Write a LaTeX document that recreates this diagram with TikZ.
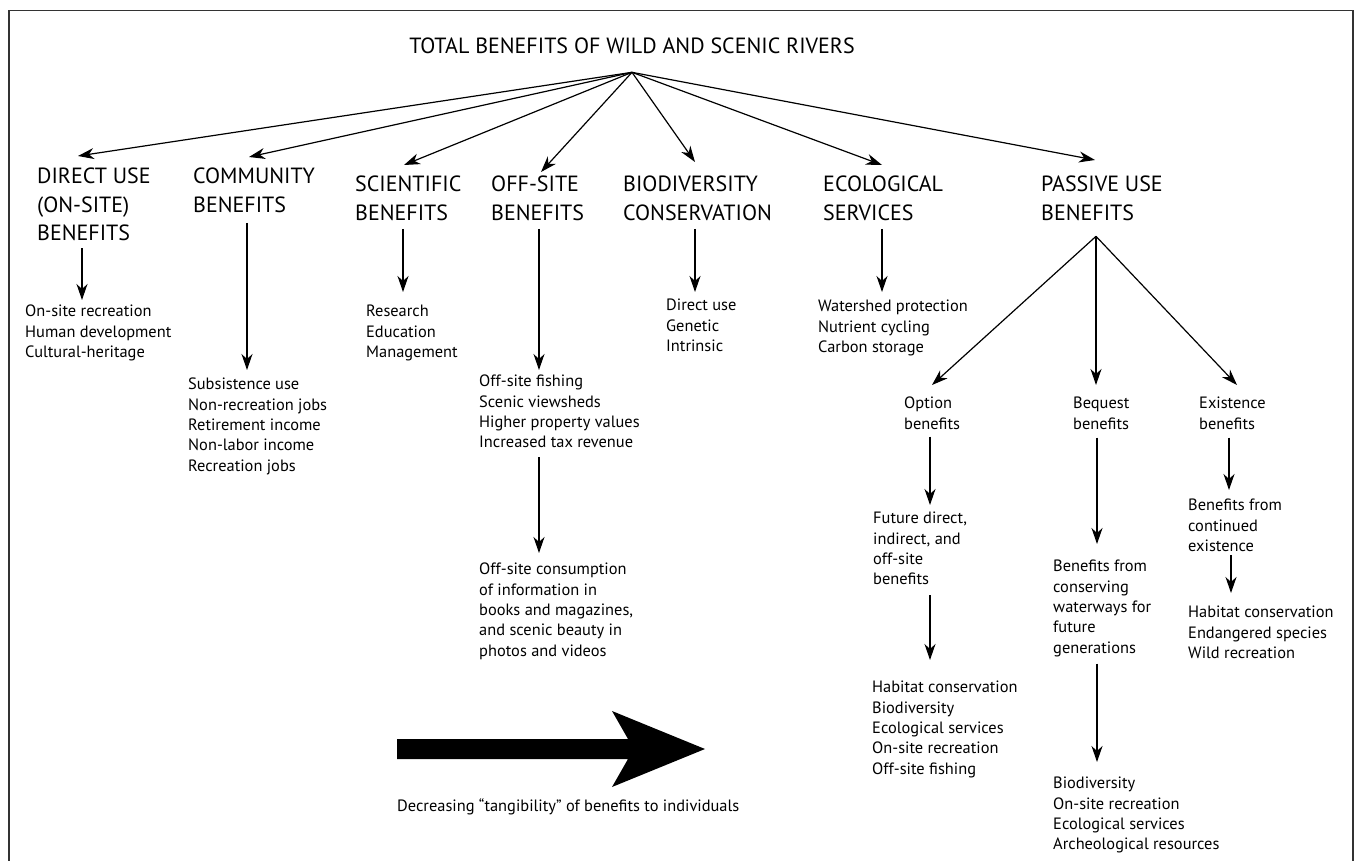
\documentclass[tikz,border=0pt]{standalone}
\usepackage{fontspec}
\setmainfont{PT Sans}
\usetikzlibrary{arrows.meta, positioning}
\newcommand{\headfont}{\fontsize{22}{28.5}\selectfont}
\newcommand{\itemfont}{\fontsize{16.4}{20.3}\selectfont}

\begin{document}
\begin{tikzpicture}[
    x=1pt, y=-1pt,
    heading/.style={anchor=north west, inner sep=0pt, align=left, font=\headfont},
    item/.style={anchor=north west, inner sep=0pt, align=left, font=\itemfont},
    arrow/.style={-{Stealth[length=16pt, width=11pt, inset=5pt]}, line width=1.2pt},
    frame/.style={line width=1.8pt, black!80}
]
\useasboundingbox (0,0) rectangle (1355,861);

% Frame
\draw[frame] (9,861) -- (9,10.5) -- (1353,10.5) -- (1353,861);

% Title
\node[heading, anchor=north] (title) at (632,38) {TOTAL BENEFITS OF WILD AND SCENIC RIVERS};
\coordinate (root) at ([yshift=-18pt]title.south);

% Benefit groups
\node[heading] (dir) at (37,168) {DIRECT USE\\(ON-SITE)\\BENEFITS};
\node[heading] (com) at (193,168) {COMMUNITY\\BENEFITS};
\node[heading] (sci) at (355,176) {SCIENTIFIC\\BENEFITS};
\node[heading] (off) at (491,176) {OFF-SITE\\BENEFITS};
\node[heading] (bio) at (623,176) {BIODIVERSITY\\CONSERVATION};
\node[heading] (eco) at (823,176) {ECOLOGICAL\\SERVICES};
\node[heading] (pas) at (1041,176) {PASSIVE USE\\BENEFITS};

% Lists under each group
\node[item] (dirl) at (25,305) {On-site recreation\\Human development\\Cultural-heritage};
\node[item] (coml) at (188,378) {Subsistence use\\Non-recreation jobs\\Retirement income\\Non-labor income\\Recreation jobs};
\node[item] (scil) at (366,305) {Research\\Education\\Management};
\node[item] (offl) at (479,375) {Off-site fishing\\Scenic viewsheds\\Higher property values\\Increased tax revenue};
\node[item] (offl2) at (479,563) {Off-site consumption\\of information in\\books and magazines,\\and scenic beauty in\\photos and videos};
\node[item] (biol) at (666,299) {Direct use\\Genetic\\Intrinsic};
\node[item] (ecol) at (818,300) {Watershed protection\\Nutrient cycling\\Carbon storage};

% Passive use branches
\node[item] (opt) at (904,397) {Option\\benefits};
\node[item] (beq) at (1073,397) {Bequest\\benefits};
\node[item] (exi) at (1199,397) {Existence\\benefits};
\node[item] (optf) at (873,512) {Future direct,\\indirect, and\\off-site\\benefits};
\node[item] (optl) at (872,681) {Habitat conservation\\Biodiversity\\Ecological services\\On-site recreation\\Off-site fishing};
\node[item] (beqf) at (1053,560) {Benefits from\\conserving\\waterways for\\future\\generations};
\node[item] (beql) at (1053,777) {Biodiversity\\On-site recreation\\Ecological services\\Archeological resources};
\node[item] (exif) at (1188,499) {Benefits from\\continued\\existence};
\node[item] (exil) at (1188,606) {Habitat conservation\\Endangered species\\Wild recreation};

% Arrows from the title
\foreach \b/\dx/\dy in {dir/41/12, com/56/11, sci/49/11, off/50/4, bio/72/14, eco/59/11, pas/54/16}
    \draw[arrow] (root) -- ([xshift=\dx pt, yshift=\dy pt]\b.north west);

% Passive use split
\coordinate (split) at ([xshift=55pt, yshift=-15.5pt]pas.south west);
\foreach \b/\dx in {opt/28, beq/23, exi/38}
    \draw[arrow] (split) -- ([xshift=\dx pt, yshift=12pt]\b.north west);

% Vertical arrows
\foreach \a/\b/\dx/\s/\e in {dir/dirl/45/7/5, com/coml/54/10/8, sci/scil/48/8/13, off/offl/48/8/5,
    bio/biol/72/8/7, eco/ecol/59/8/8, offl/offl2/60/9/10, opt/optf/26/7/7, optf/optl/57/10/21,
    beq/beqf/24/8/16, beqf/beql/44/7/15, exi/exif/30/8/9, exif/exil/43/3/13}
    \draw[arrow, shorten >=\e pt] ([xshift=\dx pt, yshift=-\s pt]\a.south west) coordinate (t) -- (t |- \b.north);

% Tangibility arrow
\fill (397,739) -- (628,739) -- (612,711) -- (705,749) -- (612,787) -- (628,759) -- (397,759) -- cycle;
\node[item] (tang) at (397,799) {Decreasing “tangibility” of benefits to individuals};

\end{tikzpicture}
\end{document}
